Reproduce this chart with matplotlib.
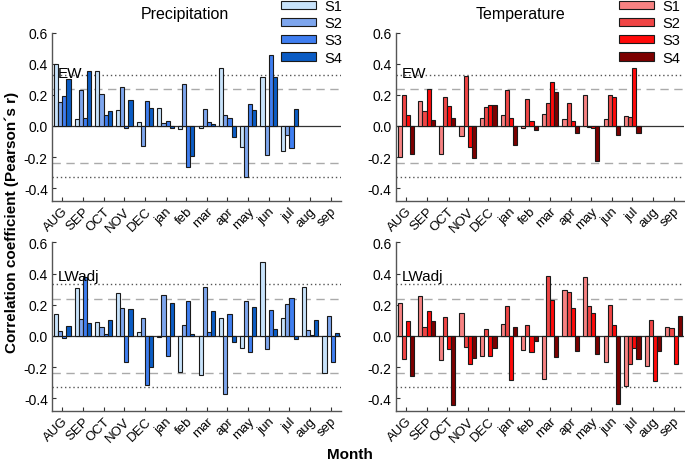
import numpy as np
import matplotlib
matplotlib.use("Agg")
import matplotlib.pyplot as plt
from matplotlib.patches import Patch

plt.rcParams['font.family'] = ['Liberation Sans', 'DejaVu Sans']

months = ['AUG', 'SEP', 'OCT', 'NOV', 'DEC', 'jan', 'feb', 'mar', 'apr', 'may', 'jun', 'jul', 'aug', 'sep']
series = ['S1', 'S2', 'S3', 'S4']
nan = np.nan

# Precipitation, EW
prec_ew_s1 = [0.398, 0.043, 0.354, 0.102, 0.026, 0.115, -0.017, -0.013, 0.373, -0.132, 0.313, -0.158, nan, nan]
prec_ew_s2 = [0.153, 0.232, 0.202, 0.251, -0.130, 0.017, 0.270, 0.111, 0.070, -0.326, -0.185, -0.060, nan, nan]
prec_ew_s3 = [0.192, 0.051, 0.070, -0.015, 0.160, 0.030, -0.266, 0.026, 0.049, 0.141, 0.456, -0.141, nan, nan]
prec_ew_s4 = [0.302, 0.351, 0.096, 0.168, 0.113, -0.013, -0.194, 0.015, -0.068, 0.100, 0.313, 0.109, nan, nan]

# Temperature, EW
temp_ew_s1 = [-0.198, 0.160, -0.181, -0.064, 0.053, 0.072, -0.011, 0.077, 0.045, 0.196, 0.047, 0.064, nan, nan]
temp_ew_s2 = [0.200, 0.096, 0.183, 0.319, 0.119, 0.232, 0.175, 0.147, 0.145, -0.009, 0.196, 0.058, nan, nan]
temp_ew_s3 = [0.072, 0.236, 0.128, -0.136, 0.134, 0.049, 0.034, 0.283, 0.034, -0.015, 0.183, 0.371, nan, nan]
temp_ew_s4 = [-0.181, 0.040, 0.051, -0.209, 0.136, -0.124, -0.028, 0.215, -0.047, -0.224, -0.058, -0.047, nan, nan]

# Precipitation, LWadj
prec_lw_s1 = [0.141, 0.309, 0.089, 0.275, 0.023, -0.004, -0.230, -0.251, 0.117, -0.077, 0.477, 0.113, 0.313, -0.236]
prec_lw_s2 = [0.030, 0.109, 0.055, 0.181, 0.115, 0.260, 0.072, 0.313, -0.370, 0.224, -0.085, 0.202, 0.038, 0.128]
prec_lw_s3 = [-0.011, 0.377, 0.015, -0.166, -0.317, -0.128, 0.222, 0.026, 0.143, -0.104, 0.166, 0.245, 0.004, -0.165]
prec_lw_s4 = [0.064, 0.081, 0.102, 0.173, -0.200, 0.211, 0.011, 0.162, -0.040, 0.185, 0.045, -0.023, 0.100, 0.020]

# Temperature, LWadj
temp_lw_s1 = [0.213, 0.256, -0.157, 0.145, -0.128, 0.077, -0.092, -0.275, 0.296, 0.375, -0.168, -0.324, -0.194, 0.055]
temp_lw_s2 = [-0.151, 0.055, 0.119, -0.072, 0.043, 0.194, 0.072, 0.386, 0.279, 0.192, 0.196, -0.181, 0.100, 0.051]
temp_lw_s3 = [0.094, 0.160, -0.085, -0.181, -0.130, -0.283, -0.104, 0.228, 0.181, 0.147, 0.072, -0.077, -0.288, -0.180]
temp_lw_s4 = [-0.256, 0.098, -0.443, -0.141, -0.077, 0.060, -0.034, -0.138, -0.100, -0.117, -0.437, -0.151, -0.100, 0.130]

blue_colors = ['#c8e3fb', '#7ea6ee', '#3f7ef0', '#0b5cc4']
red_colors = ['#f78282', '#f04545', '#ff0a0a', '#7c0000']

sig_dash = 0.235
sig_dot = 0.33

fig = plt.figure(figsize=(6.85, 4.64), dpi=100)
W, H = 685.0, 464.0

def make_ax(x0, x1, ytop, ybot):
    return fig.add_axes([x0 / W, 1 - ybot / H, (x1 - x0) / W, (ybot - ytop) / H])

ax_pe = make_ax(52, 341, 33.5, 201.7)
ax_te = make_ax(395.7, 683.8, 33.5, 201.7)
ax_pl = make_ax(52, 341, 243.4, 411.7)
ax_tl = make_ax(395.7, 683.8, 243.4, 411.7)

panels = [
    (ax_pe, [prec_ew_s1, prec_ew_s2, prec_ew_s3, prec_ew_s4], blue_colors, 'EW', 0.76),
    (ax_te, [temp_ew_s1, temp_ew_s2, temp_ew_s3, temp_ew_s4], red_colors, 'EW', 0.76),
    (ax_pl, [prec_lw_s1, prec_lw_s2, prec_lw_s3, prec_lw_s4], blue_colors, 'LWadj', 0.80),
    (ax_tl, [temp_lw_s1, temp_lw_s2, temp_lw_s3, temp_lw_s4], red_colors, 'LWadj', 0.80),
]

x = np.arange(len(months))
bw = 0.2
offsets = [-0.3, -0.1, 0.1, 0.3]

for ax, data, cols, lab, ly in panels:
    for vals, c, off in zip(data, cols, offsets):
        ax.bar(x + off, vals, width=bw, color=c, edgecolor='#1a1a1a', linewidth=0.8, zorder=3)
    ax.axhline(0, color='#333333', linewidth=0.9, zorder=2)
    for s in (1, -1):
        ax.axhline(s * sig_dash, color='#aaaaaa', linewidth=1.0, linestyle=(0, (6, 4)), zorder=1)
        ax.axhline(s * sig_dot, color='#555555', linewidth=1.0, linestyle=(0, (1, 2)), zorder=1)
    ax.set_xlim(-0.5, 13.5)
    ax.set_ylim(-0.48, 0.6)
    ax.set_yticks([-0.4, -0.2, 0.0, 0.2, 0.4, 0.6])
    ax.set_yticklabels(['-0.4', '-0.2', '0.0', '0.2', '0.4', '0.6'], fontsize=10)
    ax.set_xticks(x)
    ax.set_xticklabels(months, rotation=45, ha='right', rotation_mode='anchor', fontsize=9.5)
    ax.tick_params(direction='in', length=3, width=0.8, color='#333333', pad=3)
    for sp in ('top', 'right'):
        ax.spines[sp].set_visible(False)
    for sp in ('left', 'bottom'):
        ax.spines[sp].set_color('#555555')
        ax.spines[sp].set_linewidth(1.0)
    ax.text(0.02, ly, lab, transform=ax.transAxes, fontsize=11, va='center', ha='left', zorder=5)

fig.text(185 / W, 1 - 14 / H, 'Precipitation', fontsize=11.5, ha='center', va='center')
fig.text(520 / W, 1 - 14 / H, 'Temperature', fontsize=11.5, ha='center', va='center')

h_blue = [Patch(facecolor=c, edgecolor='#1a1a1a', linewidth=0.8) for c in blue_colors]
h_red = [Patch(facecolor=c, edgecolor='#1a1a1a', linewidth=0.8) for c in red_colors]
leg_kw = dict(frameon=False, fontsize=10.5, handlelength=2.4, handleheight=0.5,
              labelspacing=0.22, handletextpad=0.6, borderpad=0, borderaxespad=0)
fig.legend(h_blue, series, loc='upper left', bbox_to_anchor=(281 / W, 1 - 0 / H), **leg_kw)
fig.legend(h_red, series, loc='upper left', bbox_to_anchor=(619 / W, 1 - 0 / H), **leg_kw)

fig.text(12 / W, 1 - 222 / H, 'Correlation coefficient (Pearson\u00b4s r)', rotation=90,
         fontsize=11, fontweight='bold', ha='center', va='center')
fig.text(350 / W, 1 - 455 / H, 'Month', fontsize=11, fontweight='bold', ha='center', va='center')

fig.savefig('out.png', dpi=100)
